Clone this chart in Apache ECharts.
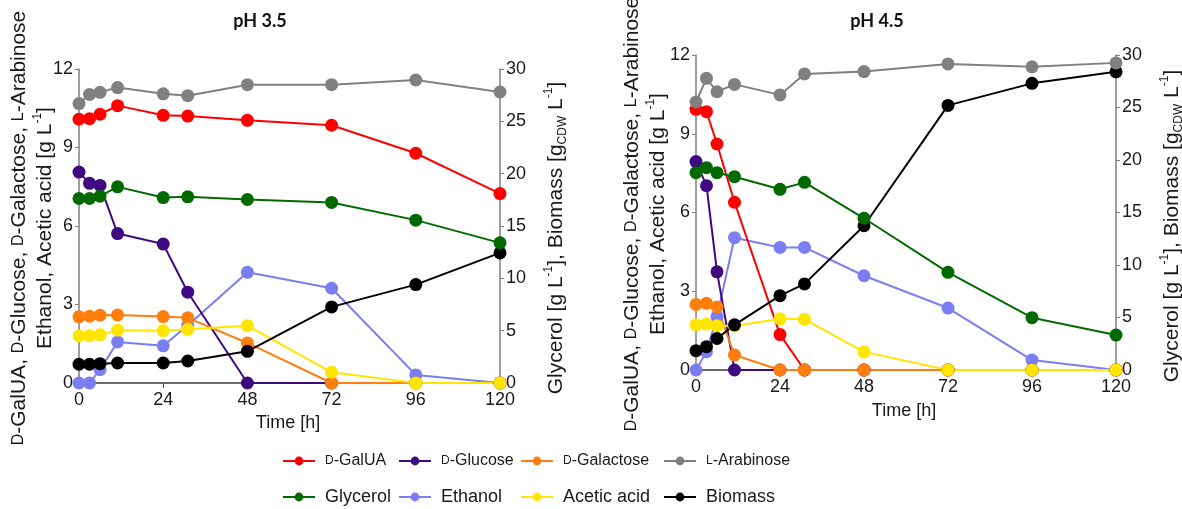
<!DOCTYPE html>
<html><head><meta charset="utf-8">
<script src="https://cdn.jsdelivr.net/npm/echarts@6/dist/echarts.min.js"></script>
<style>html,body{margin:0;padding:0;background:#fff}#c{width:1182px;height:509px}</style>
</head><body><div id="c"></div>
<script>
// ---- data ----
const timeH = [0, 3, 6, 11, 24, 31, 48, 72, 96, 120];
const seriesNames = ['D-GalUA', 'D-Glucose', 'D-Galactose', 'L-Arabinose', 'Glycerol', 'Ethanol', 'Acetic acid', 'Biomass'];
const xTicks = [0, 24, 48, 72, 96, 120];

// pH 3.5
const ph35GalUA     = [10.08, 10.10, 10.27, 10.60, 10.23, 10.20, 10.04, 9.85, 8.78, 7.24];
const ph35Glucose   = [8.06, 7.63, 7.55, 5.71, 5.31, 3.47, 0, 0, 0, 0];
const ph35Galactose = [2.53, 2.55, 2.59, 2.60, 2.54, 2.49, 1.53, 0, 0, 0];
const ph35Arabinose = [10.68, 11.03, 11.11, 11.29, 11.05, 10.98, 11.40, 11.40, 11.58, 11.12];
const ph35Glycerol  = [17.63, 17.63, 17.85, 18.74, 17.72, 17.79, 17.53, 17.25, 15.56, 13.39];
const ph35Ethanol   = [0, 0, 0.51, 1.57, 1.42, 2.2, 4.23, 3.62, 0.31, 0];
const ph35Acetic    = [1.80, 1.81, 1.84, 2.02, 2.00, 2.05, 2.19, 0.41, 0, 0];
const ph35Biomass   = [1.79, 1.79, 1.85, 1.91, 1.91, 2.10, 3.03, 7.27, 9.40, 12.43];

// pH 4.5
const ph45GalUA     = [9.93, 9.84, 8.61, 6.39, 1.35, 0, 0, 0, 0, 0];
const ph45Glucose   = [7.94, 7.02, 3.74, 0, 0, 0, 0, 0, 0, 0];
const ph45Galactose = [2.50, 2.54, 2.40, 0.57, 0, 0, 0, 0, 0, 0];
const ph45Arabinose = [10.21, 11.11, 10.60, 10.88, 10.48, 11.28, 11.37, 11.66, 11.55, 11.70];
const ph45Glycerol  = [18.79, 19.27, 18.79, 18.41, 17.21, 17.87, 14.45, 9.3, 4.98, 3.33];
const ph45Ethanol   = [0, 0.70, 2.03, 5.04, 4.67, 4.67, 3.59, 2.36, 0.38, 0];
const ph45Acetic    = [1.72, 1.75, 1.69, 1.68, 1.95, 1.93, 0.69, 0, 0, 0];
const ph45Biomass   = [1.84, 2.22, 3.0, 4.3, 7.08, 8.2, 13.74, 25.2, 27.3, 28.4];

// ---- style ----
const colors = {
  'D-GalUA': '#ff0000', 'D-Glucose': '#3f0a80', 'D-Galactose': '#ff7f0e', 'L-Arabinose': '#808080',
  'Glycerol': '#006a00', 'Ethanol': '#7a7ef2', 'Acetic acid': '#ffe500', 'Biomass': '#000000'
};
const rightAxisSeries = { 'Glycerol': true, 'Biomass': true };
// drawing order (bottom -> top)
const drawOrder = ['Ethanol', 'D-Glucose', 'D-GalUA', 'D-Galactose', 'Acetic acid', 'Biomass', 'Glycerol', 'L-Arabinose'];

const panels = [
  { vals: { 'D-GalUA': ph35GalUA, 'D-Glucose': ph35Glucose, 'D-Galactose': ph35Galactose, 'L-Arabinose': ph35Arabinose,
            'Glycerol': ph35Glycerol, 'Ethanol': ph35Ethanol, 'Acetic acid': ph35Acetic, 'Biomass': ph35Biomass } },
  { vals: { 'D-GalUA': ph45GalUA, 'D-Glucose': ph45Glucose, 'D-Galactose': ph45Galactose, 'L-Arabinose': ph45Arabinose,
            'Glycerol': ph45Glycerol, 'Ethanol': ph45Ethanol, 'Acetic acid': ph45Acetic, 'Biomass': ph45Biomass } }
];

const FONT = 'Liberation Sans, Arial, sans-serif';
const grids = [
  { left: 79, right: 1182 - 500, top: 69, bottom: 509 - 383 },
  { left: 696, right: 1182 - 1116, top: 55, bottom: 509 - 370 }
];

const xAxes = [], yAxes = [], series = [];
grids.forEach((g, i) => {
  xAxes.push({
    type: 'value', gridIndex: i, min: xTicks[0], max: xTicks[xTicks.length - 1], interval: xTicks[1] - xTicks[0],
    splitLine: { show: false },
    axisLine: { lineStyle: { color: '#3a3a3a', width: 1.5 } },
    axisTick: { show: true, length: 5, lineStyle: { color: '#555' } },
    axisLabel: { color: '#1a1a1a', fontSize: 18, fontFamily: FONT, margin: 8 }
  });
  yAxes.push({
    type: 'value', gridIndex: i, min: 0, max: 12, interval: 3, position: 'left',
    splitLine: { show: false },
    axisLine: { show: true, lineStyle: { color: '#7f7f7f', width: 1.5 } },
    axisTick: { show: true, length: 4, lineStyle: { color: '#7f7f7f' } },
    axisLabel: { color: '#1a1a1a', fontSize: 18, fontFamily: FONT, margin: 6 }
  });
  yAxes.push({
    type: 'value', gridIndex: i, min: 0, max: 30, interval: 5, position: 'right',
    splitLine: { show: false },
    axisLine: { show: true, lineStyle: { color: '#7f7f7f', width: 1.5 } },
    axisTick: { show: true, length: 4, lineStyle: { color: '#7f7f7f' } },
    axisLabel: { color: '#1a1a1a', fontSize: 18, fontFamily: FONT, margin: 6 }
  });
  drawOrder.forEach((name) => {
    const v = panels[i].vals[name];
    series.push({
      type: 'line', name: name, xAxisIndex: i, yAxisIndex: i * 2 + (rightAxisSeries[name] ? 1 : 0),
      data: timeH.map((t, k) => [t, v[k]]),
      symbol: 'circle', symbolSize: 13, showSymbol: true,
      lineStyle: { color: colors[name], width: 2 },
      itemStyle: { color: colors[name] },
      emphasis: { disabled: true }, animation: false
    });
  });
});

const richBase = {
  sc: { fontSize: 16, fontFamily: FONT, fill: '#1a1a1a', lineHeight: 26 },
  sup: { fontSize: 12, fontFamily: FONT, fill: '#1a1a1a', verticalAlign: 'top', lineHeight: 13 },
  sub: { fontSize: 12, fontFamily: FONT, fill: '#1a1a1a', verticalAlign: 'bottom', lineHeight: 13 }
};
function richLabel(s) { return s.replace(/^([DL])-/, '{sc|$1}-'); }

const leftName = '{sc|D}-GalUA, {sc|D}-Glucose, {sc|D}-Galactose, {sc|L}-Arabinose\nEthanol, Acetic acid [g L{sup|-1}]';
const rightName = 'Glycerol [g L{sup|-1}], Biomass [g{sub|CDW} L{sup|-1}]';
function vText(x, y, text) {
  return { type: 'text', x: x, y: y, rotation: Math.PI / 2, silent: true,
    style: { text: text, fontSize: 21, fontFamily: FONT, fill: '#1a1a1a', lineHeight: 26,
             align: 'center', verticalAlign: 'middle', rich: richBase } };
}
function hText(x, y, text) {
  return { type: 'text', x: x, y: y, silent: true,
    style: { text: text, fontSize: 18, fontFamily: FONT, fill: '#1a1a1a', align: 'center', verticalAlign: 'middle' } };
}

// legend positions: icon left / row top
const legendPos = [
  [282, 453], [398, 453], [520, 453], [663, 453],
  [282, 488], [398, 488], [520, 488], [663, 488]
];
const legendFont = [16, 16, 16, 16, 18, 18, 18, 18];
const legendOrder = ['D-GalUA', 'D-Glucose', 'D-Galactose', 'L-Arabinose', 'Glycerol', 'Ethanol', 'Acetic acid', 'Biomass'];
const legends = legendOrder.map((name, i) => ({
  data: [name], left: legendPos[i][0], top: legendPos[i][1], padding: 0,
  itemWidth: 32, itemHeight: 11, selectedMode: false,
  formatter: (n) => richLabel(n),
  textStyle: { fontSize: legendFont[i], fontFamily: FONT, color: '#1a1a1a', padding: [0, 0, 0, 5],
               rich: { sc: { fontSize: 12, fontFamily: FONT, color: '#1a1a1a' } } }
}));

const chart = echarts.init(document.getElementById('c'), null, { renderer: 'canvas' });
chart.setOption({
  animation: false,
  backgroundColor: '#ffffff',
  title: [
    { text: 'pH 3.5', left: 255, top: 7, textAlign: 'center',
      textStyle: { fontSize: 18, fontWeight: 'bold', fontFamily: 'Lato, Open Sans, sans-serif', color: '#111' } },
    { text: 'pH 4.5', left: 872, top: 7, textAlign: 'center',
      textStyle: { fontSize: 18, fontWeight: 'bold', fontFamily: 'Lato, Open Sans, sans-serif', color: '#111' } }
  ],
  grid: grids,
  xAxis: xAxes,
  yAxis: yAxes,
  legend: legends,
  series: series,
  graphic: [
    vText(32, 228, leftName),
    vText(556, 238, rightName),
    vText(645, 214, leftName),
    vText(1172, 226, rightName),
    hText(288, 423, 'Time [h]'),
    hText(904, 411, 'Time [h]')
  ]
});
</script></body></html>
